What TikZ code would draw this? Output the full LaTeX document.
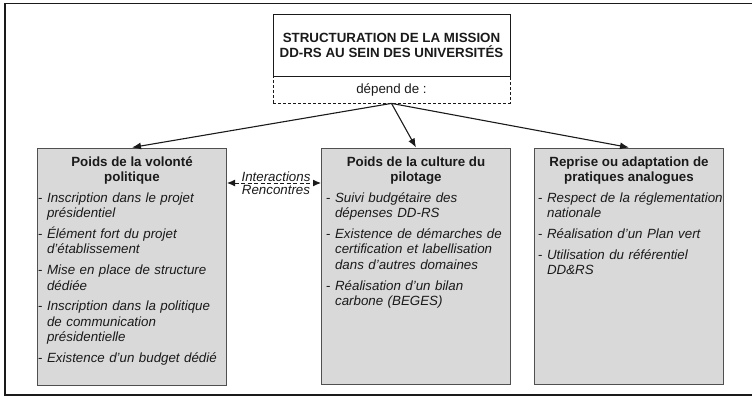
\documentclass[tikz,border=0pt]{standalone}
\usepackage{fontspec}
\setmainfont{Liberation Sans}
\usetikzlibrary{arrows.meta}
\definecolor{boxfill}{HTML}{D9D9D9}
\definecolor{boxline}{HTML}{505050}
\definecolor{ink}{HTML}{1A1A1A}
\newlength\bulw
\newcommand\bul[1]{\settowidth\bulw{-\ }\hangindent=\bulw\hangafter=1 -\ \textit{#1}\par}
\begin{document}
\begin{tikzpicture}[x=1pt,y=-1pt,
  every node/.style={font=\fontsize{13.33}{15.3}\selectfont, text=ink},
  box/.style={draw=boxline, line width=1pt, fill=boxfill, anchor=north west, inner sep=0pt},
  head/.style={anchor=base, font=\fontsize{13.33}{15.3}\selectfont\bfseries, align=center, inner sep=0pt},
  items/.style={anchor=base west, text width=240pt, inner sep=0pt, align=left,
    execute at begin node={\setlength\parskip{5.5pt}}},
  conn/.style={draw=ink, line width=1.1pt, -{Latex[length=9pt,width=7pt]}},
  link/.style={draw=ink, line width=1pt, dash pattern=on 4pt off 2.5pt,
    {Latex[length=8pt,width=7pt]}-{Latex[length=8pt,width=7pt]}},
  lab/.style={font=\fontsize{13.33}{15.3}\selectfont\itshape, inner sep=0pt}
]
\useasboundingbox (0,0) rectangle (752,396);
\draw[line width=1.2pt, draw=ink] (5,3.5) rectangle (756,395);

% top boxes
\node[draw=ink, line width=0.8pt, dash pattern=on 3pt off 2pt, minimum width=237pt,
  minimum height=27pt, inner sep=0pt] (dep) at (391.5,89.5) {dépend de :};
\node[draw=ink, fill=white, line width=1pt, minimum width=237pt, minimum height=61pt,
  inner sep=0pt, align=center, font=\fontsize{13.33}{15.3}\selectfont\bfseries]
  (title) at (391.5,45.5) {STRUCTURATION DE LA MISSION\\DD-RS AU SEIN DES UNIVERSITÉS};

% three boxes
\node[box, minimum width=189pt, minimum height=237pt] (lbox) at (37,147.5) {};
\node[box, minimum width=189pt, minimum height=236pt] (mbox) at (321,147.5) {};
\node[box, minimum width=189pt, minimum height=236pt] (rbox) at (534,147.5) {};

\node[head] (lhead) at (lbox.north |- 0,181.8) {Poids de la volonté\\politique};
\node[head] (mhead) at (mbox.north |- 0,181.8) {Poids de la culture du\\pilotage};
\node[head] (rhead) at (rbox.north |- 0,181.8) {Reprise ou adaptation de\\pratiques analogues};

\node[items] (litems) at (38,202.5) {%
\bul{Inscription dans le projet\newline présidentiel}
\bul{Élément fort du projet\newline d’établissement}
\bul{Mise en place de structure\newline dédiée}
\bul{Inscription dans la politique\newline de communication\newline présidentielle}
\bul{Existence d’un budget dédié}};

\node[items] (mitems) at (326,202.5) {%
\bul{Suivi budgétaire des\newline dépenses DD-RS}
\bul{Existence de démarches de\newline certification et labellisation\newline dans d’autres domaines}
\bul{Réalisation d’un bilan\newline carbone (BEGES)}};

\node[items] (ritems) at (538,202.5) {%
\bul{Respect de la réglementation\newline nationale}
\bul{Réalisation d’un Plan vert}
\bul{Utilisation du référentiel\newline DD\&RS}};

% connectors
\draw[conn] (dep.south) -- (lbox.north);
\draw[conn] (dep.south) -- (mbox.north);
\draw[conn] (dep.south) -- (rbox.north);

\coordinate (ia) at ([yshift=-35.5pt]lbox.north east);
\draw[link] (ia) -- (ia -| mbox.west);
\node[lab] (inter) at (276,176.7) {Interactions};
\node[lab] (renc) at (276,190) {Rencontres};
\end{tikzpicture}
\end{document}
